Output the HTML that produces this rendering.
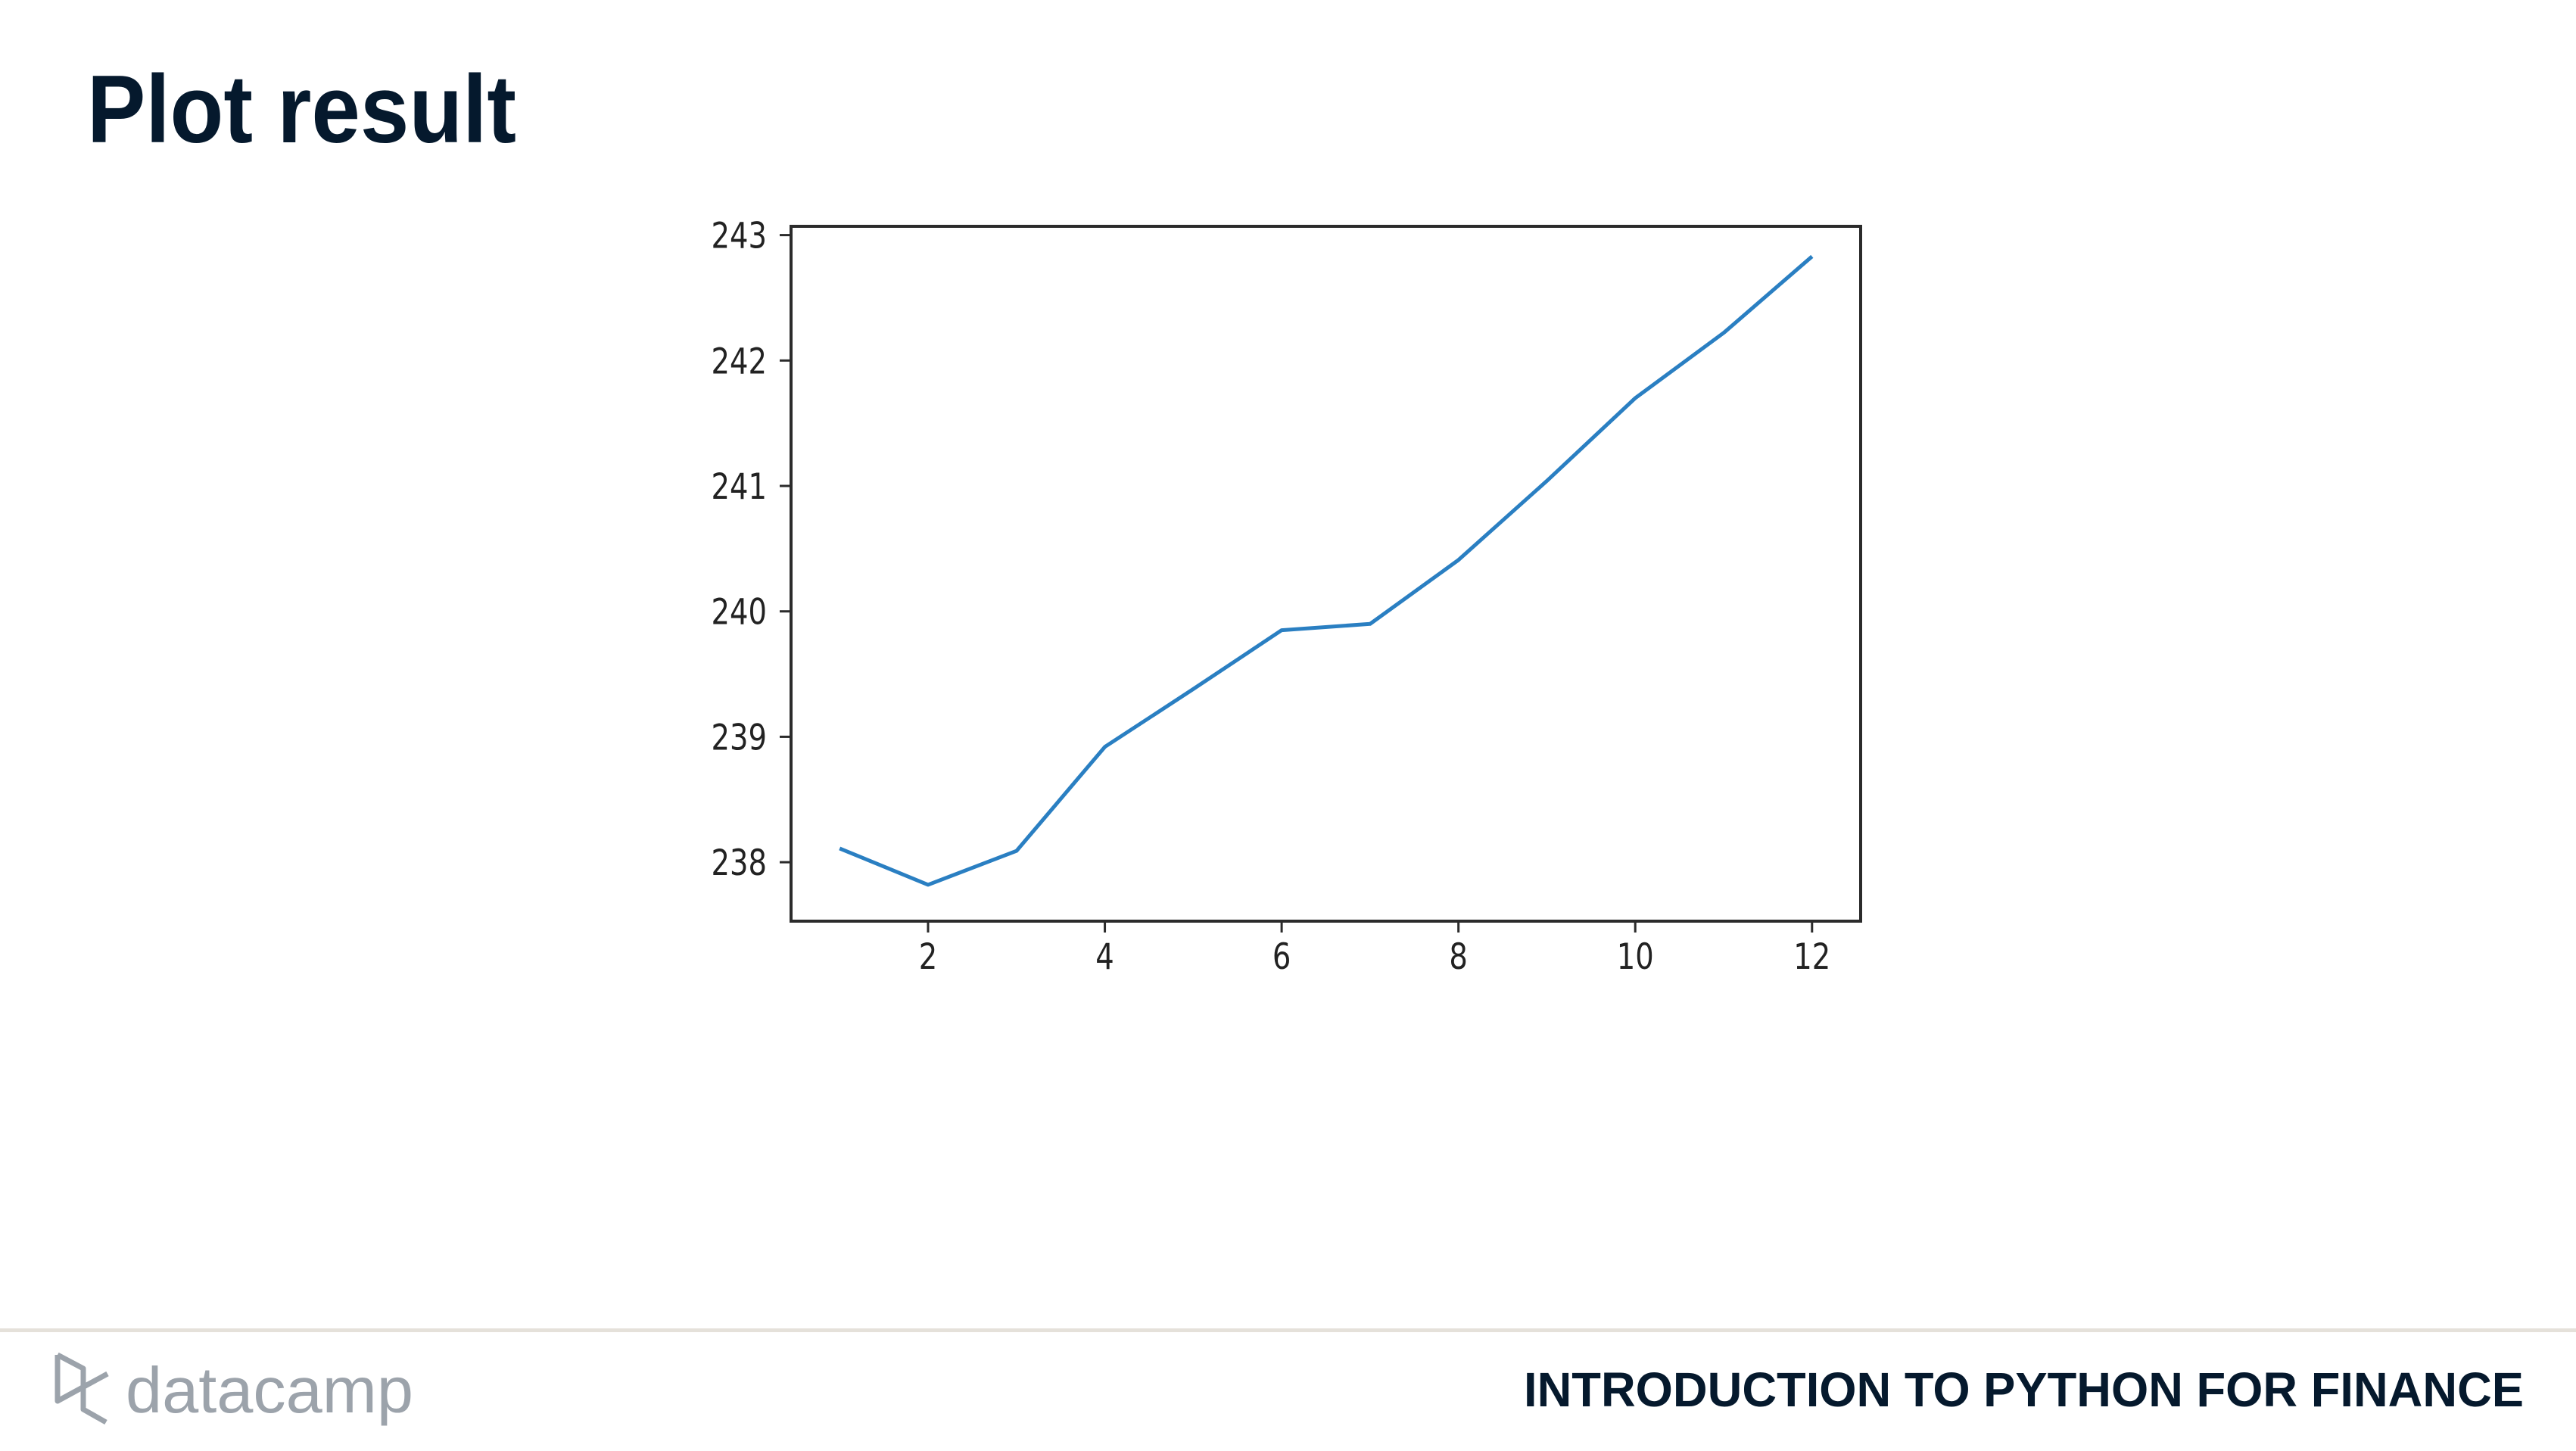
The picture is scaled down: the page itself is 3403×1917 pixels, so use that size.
<!DOCTYPE html>
<html><head><meta charset="utf-8">
<style>
html,body{margin:0;padding:0;background:#fff;}
svg{display:block;}
</style></head>
<body>
<svg id="slide" width="3403" height="1917" viewBox="0 0 3403 1917" xmlns="http://www.w3.org/2000/svg">
  <rect x="0" y="0" width="3403" height="1917" fill="#ffffff"/>
  <text x="115" y="188" font-family="Liberation Sans, sans-serif" font-weight="bold" font-size="127" fill="#05192D" textLength="567" lengthAdjust="spacingAndGlyphs">Plot result</text>

  <g id="chart"></g>

  <rect x="0" y="1755" width="3403" height="5" fill="#e5e1da"/>
  <g>
    <path d="M76 1790 L110 1808 L110 1862 L140 1879 M76 1790 L76 1851 L142 1815" fill="none" stroke="#9ca3ab" stroke-width="7" stroke-linejoin="round"/>
    <text x="166" y="1866" font-family="Liberation Sans, sans-serif" font-size="85" fill="#9ca3ab" textLength="380" lengthAdjust="spacingAndGlyphs">datacamp</text>
  </g>
  <text x="2013" y="1858" font-family="Liberation Sans, sans-serif" font-weight="bold" font-size="64" fill="#05192D" textLength="1321" lengthAdjust="spacingAndGlyphs">INTRODUCTION TO PYTHON FOR FINANCE</text>
</svg>
<script>
const months = [1,2,3,4,5,6,7,8,9,10,11,12];
const prices = [238.11,237.82,238.09,238.92,239.38,239.85,239.90,240.41,241.04,241.70,242.22,242.83];
const xTicks = [2,4,6,8,10,12];
const yTicks = [238,239,240,241,242,243];

const NS = 'http://www.w3.org/2000/svg';
const chart = document.getElementById('chart');
const L = 1045, R = 2458, T = 299, B = 1217;
const xMin = 0.45, xMax = 12.55;
const yMin = 237.53, yMax = 243.07;
function xs(v){ return L + (v - xMin) / (xMax - xMin) * (R - L); }
function ys(v){ return B - (v - yMin) / (yMax - yMin) * (B - T); }
function mk(tag, attrs){ const e = document.createElementNS(NS, tag); for (const k in attrs) e.setAttribute(k, attrs[k]); chart.appendChild(e); return e; }

let d = '';
months.forEach((m,i)=>{ d += (i? 'L':'M') + xs(m).toFixed(1) + ' ' + ys(prices[i]).toFixed(1) + ' '; });
const line = mk('path', {d:d, fill:'none', stroke:'#2a7fc2', 'stroke-width':5, 'stroke-linejoin':'round'});



const frame = mk('rect', {x:L, y:T, width:R-L, height:B-T, fill:'none', stroke:'#2b2b2b', 'stroke-width':4});



xTicks.forEach(t=>{
  const x = xs(t);
  const tk = mk('line', {x1:x, y1:B, x2:x, y2:B+15, stroke:'#2b2b2b', 'stroke-width':3});
  
  
  const lb = mk('text', {transform:'translate(' + x + ',1280) scale(0.82,1)', 'text-anchor':'middle', 'font-family':'DejaVu Sans, sans-serif', 'font-size':47, fill:'#222'});
  lb.textContent = String(t);
  
  
});
yTicks.forEach(t=>{
  const y = ys(t);
  const tk = mk('line', {x1:L-15, y1:y, x2:L, y2:y, stroke:'#2b2b2b', 'stroke-width':3});
  
  
  const lb = mk('text', {transform:'translate(1013,' + (y+17) + ') scale(0.82,1)', 'text-anchor':'end', 'font-family':'DejaVu Sans, sans-serif', 'font-size':47, fill:'#222'});
  lb.textContent = String(t);
  
  
});
</script>
</body></html>
